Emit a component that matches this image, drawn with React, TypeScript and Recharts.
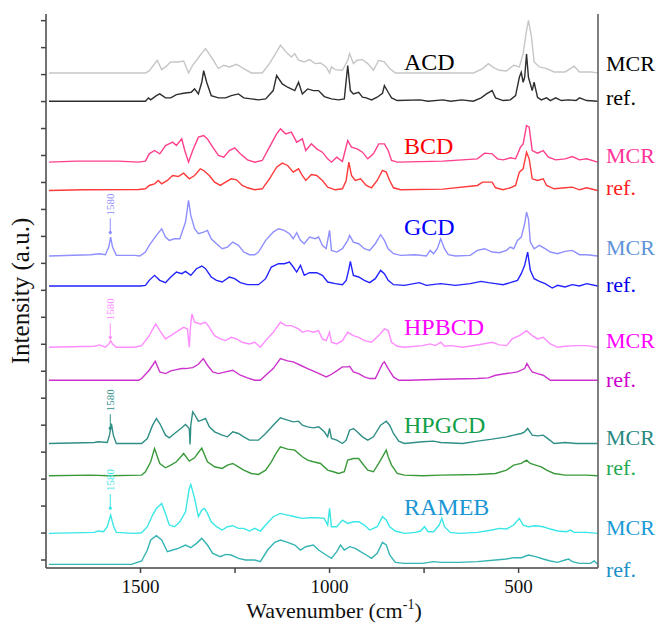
import React from 'react';
import { LineChart, Line, XAxis, YAxis, ReferenceDot } from 'recharts';

type Pt = [number, number];

// Raman spectra (wavenumber cm-1, relative intensity a.u.)
const acdMcr: Pt[] = [[1742,0],[1487,0],[1477,6],[1456,38],[1444,10],[1434,18],[1420,33],[1400,33],[1386,36],[1373,0],[1362,23],[1342,53],[1328,73],[1313,48],[1294,13],[1280,23],[1265,18],[1246,26],[1227,13],[1207,0],[1178,0],[1159,28],[1140,63],[1130,83],[1111,58],[1101,48],[1092,58],[1082,38],[1067,33],[1053,40],[1038,28],[1024,30],[1009,18],[1000,0],[995,18],[985,10],[966,8],[952,38],[947,58],[937,28],[927,38],[913,40],[899,28],[884,8],[870,38],[855,33],[841,13],[826,0],[619,0],[595,13],[580,28],[566,16],[551,8],[532,6],[513,23],[498,18],[488,58],[479,128],[474,158],[466,108],[459,33],[445,18],[426,13],[406,3],[377,3],[353,20],[339,3],[310,3],[291,0]];
const acdRef: Pt[] = [[1742,0],[1487,0],[1479,10],[1473,4],[1458,17],[1449,22],[1434,10],[1420,10],[1405,20],[1386,24],[1366,27],[1357,37],[1347,22],[1338,57],[1333,92],[1325,57],[1313,17],[1294,10],[1275,10],[1260,17],[1241,22],[1227,10],[1207,7],[1188,4],[1169,7],[1149,32],[1140,77],[1125,52],[1111,42],[1092,32],[1082,57],[1072,22],[1058,37],[1043,32],[1029,32],[1014,14],[995,7],[976,4],[961,7],[952,107],[945,32],[937,22],[923,27],[913,12],[903,10],[889,4],[874,12],[860,24],[855,47],[845,27],[836,10],[821,2],[760,4],[740,0],[700,4],[680,0],[650,4],[620,0],[599,10],[585,22],[570,32],[561,10],[541,2],[522,4],[508,17],[498,72],[493,87],[488,57],[484,72],[479,142],[474,72],[464,32],[459,57],[455,37],[450,12],[440,4],[426,10],[416,2],[402,10],[387,2],[368,4],[348,2],[339,10],[320,2],[291,0]];
const bcdMcr: Pt[] = [[1742,0],[1670,3],[1560,3],[1505,0],[1487,3],[1477,25],[1463,35],[1449,25],[1434,50],[1415,60],[1405,50],[1391,70],[1383,35],[1373,0],[1362,35],[1347,75],[1333,80],[1323,70],[1309,45],[1294,20],[1280,15],[1265,35],[1251,43],[1236,25],[1217,7],[1198,0],[1178,5],[1159,45],[1140,85],[1130,100],[1116,85],[1101,90],[1087,60],[1072,70],[1063,35],[1048,55],[1034,40],[1019,30],[1005,10],[995,0],[981,15],[966,2],[952,65],[942,45],[927,40],[913,30],[899,10],[884,25],[870,55],[855,55],[845,35],[836,5],[821,0],[700,3],[609,10],[590,27],[570,25],[556,10],[541,7],[522,13],[508,10],[495,45],[488,55],[479,110],[472,105],[464,35],[450,27],[435,35],[421,15],[402,7],[377,10],[358,17],[339,7],[320,10],[291,0]];
const bcdRef: Pt[] = [[1742,0],[1650,2],[1505,3],[1487,5],[1477,15],[1463,20],[1453,30],[1444,20],[1429,30],[1415,45],[1400,42],[1386,52],[1371,35],[1357,45],[1342,65],[1333,60],[1318,45],[1304,25],[1289,15],[1275,25],[1260,35],[1246,32],[1231,15],[1217,8],[1198,2],[1178,5],[1159,35],[1140,70],[1125,82],[1111,75],[1096,55],[1082,65],[1072,45],[1063,30],[1048,48],[1034,45],[1019,30],[1005,10],[985,2],[966,5],[956,30],[949,85],[942,45],[932,30],[918,35],[903,15],[889,8],[874,30],[860,60],[850,55],[841,30],[831,8],[812,2],[700,4],[609,15],[595,25],[570,25],[561,8],[541,2],[522,8],[508,15],[498,55],[488,65],[479,115],[472,95],[464,35],[450,30],[435,35],[426,15],[406,5],[377,8],[358,10],[339,2],[320,8],[291,0]];
const gcdMcr: Pt[] = [[1742,0],[1632,4],[1608,7],[1593,4],[1584,27],[1579,57],[1574,27],[1564,2],[1516,2],[1502,0],[1487,12],[1477,32],[1458,62],[1444,82],[1434,57],[1424,47],[1410,52],[1396,52],[1381,102],[1373,167],[1367,122],[1357,82],[1347,67],[1333,72],[1323,77],[1313,52],[1299,37],[1284,22],[1270,27],[1256,42],[1241,32],[1227,12],[1212,4],[1198,4],[1188,12],[1169,47],[1149,72],[1135,82],[1120,77],[1106,67],[1096,52],[1087,70],[1077,47],[1067,37],[1053,57],[1038,52],[1029,57],[1019,32],[1009,22],[1000,77],[995,17],[981,12],[966,22],[952,47],[947,62],[937,42],[923,37],[908,22],[894,17],[879,37],[865,64],[855,47],[845,22],[831,7],[812,2],[773,4],[744,0],[734,17],[725,7],[715,22],[706,52],[696,22],[686,4],[667,0],[628,2],[609,17],[590,22],[570,12],[551,10],[532,17],[522,27],[513,22],[503,47],[493,57],[484,97],[479,132],[474,112],[469,42],[459,22],[445,32],[430,22],[416,12],[397,7],[377,14],[358,17],[339,4],[320,4],[291,0]];
const gcdRef: Pt[] = [[1742,0],[1500,0],[1487,2],[1477,17],[1463,32],[1449,17],[1434,10],[1420,27],[1405,42],[1391,37],[1381,44],[1367,32],[1352,52],[1338,60],[1328,52],[1313,27],[1299,17],[1284,12],[1265,27],[1251,22],[1236,10],[1217,4],[1188,4],[1169,22],[1154,57],[1135,67],[1120,67],[1106,72],[1096,57],[1087,42],[1077,62],[1067,32],[1053,40],[1034,40],[1019,32],[1005,12],[985,7],[966,4],[956,17],[949,50],[945,74],[937,32],[923,27],[908,17],[894,10],[879,22],[865,47],[855,37],[845,17],[831,4],[802,2],[763,10],[744,2],[706,7],[667,2],[628,7],[599,14],[580,10],[561,7],[541,4],[522,10],[503,17],[493,37],[484,62],[476,102],[469,47],[459,22],[445,14],[430,7],[411,-6],[397,2],[377,-3],[358,4],[339,0],[320,7],[291,0]];
const hpbcdMcr: Pt[] = [[1742,0],[1622,3],[1608,7],[1593,0],[1584,10],[1579,20],[1574,10],[1564,0],[1516,0],[1497,5],[1477,35],[1460,70],[1449,50],[1434,25],[1420,35],[1400,50],[1386,60],[1376,55],[1371,0],[1368,60],[1364,100],[1357,75],[1342,70],[1328,75],[1318,60],[1304,35],[1289,25],[1275,20],[1260,30],[1246,25],[1231,15],[1212,10],[1198,15],[1183,0],[1169,20],[1149,45],[1130,75],[1116,65],[1101,65],[1082,55],[1072,45],[1058,50],[1043,45],[1029,50],[1019,25],[1009,20],[1000,45],[995,15],[981,10],[966,20],[952,45],[937,35],[923,30],[908,20],[889,15],[870,35],[855,55],[845,50],[836,15],[821,3],[802,0],[754,5],[734,10],[720,5],[706,15],[696,3],[677,5],[648,0],[609,7],[570,15],[551,7],[532,5],[517,25],[498,35],[479,50],[464,35],[450,25],[435,30],[416,10],[397,0],[377,3],[348,5],[320,5],[291,0]];
const hpbcdRef: Pt[] = [[1742,0],[1505,0],[1497,5],[1477,30],[1461,57],[1449,25],[1434,20],[1420,28],[1405,32],[1391,35],[1381,35],[1362,38],[1347,48],[1334,65],[1323,45],[1309,25],[1294,20],[1275,25],[1256,30],[1236,15],[1217,7],[1198,0],[1183,0],[1169,15],[1149,35],[1130,65],[1111,58],[1096,55],[1077,45],[1058,35],[1038,25],[1019,15],[1009,10],[999,15],[981,28],[966,40],[952,40],[947,42],[937,25],[923,20],[908,10],[894,5],[879,5],[860,50],[855,55],[845,35],[831,10],[817,0],[792,0],[700,3],[609,5],[580,7],[561,15],[532,20],[503,25],[484,35],[478,50],[470,35],[464,25],[450,20],[435,15],[416,0],[291,0]];
const hpgcdMcr: Pt[] = [[1742,0],[1622,3],[1612,5],[1588,3],[1582,25],[1577,60],[1572,25],[1564,0],[1497,0],[1482,15],[1468,55],[1458,75],[1449,60],[1434,25],[1424,17],[1410,30],[1391,47],[1381,57],[1371,45],[1369,-3],[1367,55],[1362,95],[1357,87],[1347,67],[1338,70],[1328,75],[1318,50],[1304,35],[1284,25],[1270,20],[1256,35],[1241,30],[1227,20],[1212,10],[1188,10],[1169,30],[1149,55],[1130,77],[1111,70],[1096,65],[1082,67],[1072,55],[1058,50],[1043,47],[1029,50],[1014,35],[1005,20],[1000,45],[995,15],[981,10],[966,0],[956,10],[947,40],[937,45],[927,35],[913,20],[899,10],[884,20],[865,55],[850,67],[841,55],[831,30],[817,7],[802,0],[754,5],[725,7],[706,3],[648,0],[609,7],[570,13],[532,20],[513,25],[493,30],[484,35],[476,45],[464,25],[450,23],[435,25],[421,13],[406,0],[377,3],[348,0],[291,0]];
const hpgcdRef: Pt[] = [[1742,0],[1632,2],[1584,0],[1497,2],[1487,12],[1473,42],[1463,82],[1449,37],[1434,24],[1420,32],[1405,42],[1391,60],[1386,67],[1371,44],[1357,54],[1347,70],[1338,83],[1323,42],[1304,27],[1284,22],[1270,32],[1256,37],[1241,27],[1227,17],[1207,7],[1188,4],[1169,17],[1154,42],[1140,70],[1130,87],[1111,80],[1092,77],[1072,57],[1058,47],[1043,42],[1024,37],[1005,17],[990,12],[976,7],[961,12],[952,47],[937,52],[923,52],[913,37],[899,17],[884,12],[870,37],[850,77],[845,57],[836,32],[821,7],[802,2],[754,0],[706,2],[609,4],[561,7],[532,17],[513,32],[493,37],[479,47],[469,37],[455,32],[440,27],[426,17],[406,7],[377,2],[320,2],[291,0]];
const ramebMcr: Pt[] = [[1742,0],[1622,3],[1612,7],[1598,5],[1588,20],[1579,55],[1571,20],[1564,3],[1516,0],[1497,2],[1482,20],[1468,55],[1458,75],[1444,90],[1434,60],[1424,25],[1410,20],[1396,35],[1381,65],[1371,135],[1367,147],[1357,105],[1347,50],[1338,70],[1331,75],[1323,60],[1313,35],[1299,20],[1284,10],[1270,20],[1256,23],[1241,15],[1227,15],[1212,7],[1198,15],[1183,7],[1169,25],[1149,50],[1130,60],[1111,55],[1092,50],[1072,45],[1053,47],[1034,47],[1014,45],[1005,25],[1000,75],[995,20],[981,20],[966,40],[952,30],[937,35],[923,35],[908,25],[894,10],[874,20],[860,50],[850,40],[841,20],[826,7],[802,0],[773,3],[759,7],[749,20],[739,5],[725,5],[710,25],[703,45],[696,20],[681,3],[657,0],[609,3],[570,10],[551,15],[532,13],[513,25],[498,45],[488,25],[474,20],[455,23],[435,20],[416,13],[397,7],[373,5],[363,10],[353,3],[320,3],[291,0]];
const ramebRef: Pt[] = [[1742,0],[1524,0],[1516,3],[1497,10],[1482,43],[1473,73],[1458,86],[1444,73],[1429,38],[1415,43],[1400,48],[1381,58],[1367,50],[1352,63],[1338,78],[1323,58],[1309,33],[1289,23],[1275,30],[1260,28],[1241,18],[1222,13],[1198,13],[1183,8],[1164,43],[1145,66],[1130,73],[1111,66],[1092,58],[1077,43],[1063,53],[1043,58],[1029,43],[1009,28],[995,18],[981,38],[971,58],[961,43],[947,53],[932,48],[918,38],[903,28],[889,18],[874,33],[860,66],[850,58],[841,28],[826,6],[802,3],[754,3],[725,8],[706,6],[657,6],[609,8],[561,13],[532,16],[513,20],[493,20],[474,28],[455,23],[435,16],[416,10],[397,6],[377,13],[368,16],[358,8],[339,3],[310,3],[300,10],[291,0]];

const spectra: Pt[][] = [acdMcr, acdRef, bcdMcr, bcdRef, gcdMcr, gcdRef, hpbcdMcr, hpbcdRef, hpgcdMcr, hpgcdRef, ramebMcr, ramebRef];
// vertical stacking offsets of each spectrum (a.u.)
const stackOffsets: number[] = [1463, 1378, 1195, 1110, 913, 823, 639, 540, 350, 253, 80, -13];

const sampleNames: string[] = ['ACD', 'BCD', 'GCD', 'HPBCD', 'HPGCD', 'RAMEB'];
const sampleLabelPos: Pt[] = [[803, 1473], [803, 1218], [803, 975], [803, 675], [803, 381], [803, 135]];
const traceNames: string[] = ['MCR', 'ref.', 'MCR', 'ref.', 'MCR', 'ref.', 'MCR', 'ref.', 'MCR', 'ref.', 'MCR', 'ref.'];
const traceLabelY: number[] = [1470, 1368, 1191, 1095, 915, 804, 636, 519, 345, 255, 75, -51];

const peakText = '1580';
const peakWavenumber = 1580;
const peakArrowTips: number[] = [978, 663, 390, 150];

const xTicks: number[] = [1500, 1250, 1000, 750, 500];
const yTicks: number[] = Array.from({ length: 21 }, (_, i) => i * 81);

// styles
const lineColors = ['#c6c6c6', '#2e2e2e', '#ff3f8c', '#ff3a3a', '#8f8fff', '#2323ff', '#ff8cff', '#cc33cc', '#2f8f86', '#3a9a3a', '#3ae6e6', '#35b4b4'];
const sampleColors = ['#000000', '#ff0000', '#0000ff', '#ff00ff', '#12a04a', '#1a96d4'];
const traceColors = ['#000000', '#000000', '#ff3399', '#ff2020', '#5f93d8', '#0000ee', '#ff00ff', '#cc00cc', '#2a8a80', '#1faa50', '#1a9ad6', '#1a8fc8'];
const peakColors = ['#8f8fff', '#ff8cff', '#2f8f86', '#3ae6e6'];

const SERIF = '"Liberation Serif", "DejaVu Serif", serif';
const serifStyle = { fontFamily: SERIF };
const X_DOMAIN: [number, number] = [290, 1750];
const Y_DOMAIN: [number, number] = [-24, 1640];

export default function App() {
  const lineData = spectra.map((s, i) => s.map(([x, y]) => ({ x, y: y + stackOffsets[i] })));
  return (
    <div style={{ position: 'absolute', left: 0, top: 0, width: 665, height: 628, background: '#fff', fontFamily: SERIF }}>
      <LineChart width={665} height={628} margin={{ top: 14, right: 0, bottom: 0, left: 6 }} style={serifStyle}>
        <XAxis
          dataKey="x"
          type="number"
          domain={X_DOMAIN}
          allowDataOverflow
          reversed
          ticks={xTicks}
          interval={0}
          height={60}
          tickSize={5}
          tickMargin={7}
          stroke="#444"
          strokeWidth={1.5}
          tickFormatter={(v: number) => (v % 500 === 0 ? String(v) : '')}
          tick={{ fill: '#111', fontSize: 19, fontFamily: SERIF, style: serifStyle }}
          label={{
            content: (p: any) => {
              const vb = p.viewBox || { x: 46, y: 568, width: 552 };
              return (
                <text x={vb.x + vb.width / 2 + 12} y={618} textAnchor="middle" style={serifStyle} fontSize={22} fill="#111">
                  Wavenumber (cm<tspan dy={-9} fontSize={14}>-1</tspan><tspan dy={9}>)</tspan>
                </text>
              );
            },
          }}
        />
        <XAxis xAxisId="top" orientation="top" type="number" domain={X_DOMAIN} allowDataOverflow reversed height={0} tick={false} tickLine={false} stroke="#555" strokeWidth={1.5} />
        <YAxis
          type="number"
          domain={Y_DOMAIN}
          allowDataOverflow
          ticks={yTicks}
          interval={0}
          width={40}
          tickSize={5}
          tickFormatter={() => ''}
          stroke="#444"
          strokeWidth={1.5}
          label={{
            content: (p: any) => {
              const vb = p.viewBox || { x: 6, y: 14, width: 40, height: 554 };
              const cx = vb.x + 14;
              const cy = vb.y + vb.height / 2;
              return (
                <text x={cx} y={cy} transform={`rotate(-90 ${cx} ${cy})`} textAnchor="middle" dominantBaseline="central" style={serifStyle} fontSize={25} fill="#111">
                  Intensity (a.u.)
                </text>
              );
            },
          }}
        />
        <YAxis yAxisId="right" orientation="right" type="number" domain={[0, 1]} width={67} tick={false} tickLine={false} stroke="#555" strokeWidth={1.5} />

        {lineData.map((d, i) => (
          <Line
            key={i}
            data={d}
            dataKey="y"
            type="linear"
            stroke={lineColors[i]}
            strokeWidth={1.4}
            dot={false}
            activeDot={false}
            isAnimationActive={false}
          />
        ))}

        {sampleNames.map((name, i) => (
          <ReferenceDot
            key={'s' + i}
            x={sampleLabelPos[i][0]}
            y={sampleLabelPos[i][1]}
            ifOverflow="visible"
            shape={(p: any) => (
              <text x={p.cx} y={p.cy} style={serifStyle} fontSize={24} fill={sampleColors[i]}>
                {name}
              </text>
            )}
          />
        ))}

        {traceNames.map((name, i) => (
          <ReferenceDot
            key={'t' + i}
            x={X_DOMAIN[0]}
            y={traceLabelY[i]}
            ifOverflow="visible"
            shape={(p: any) => (
              <text x={p.cx + 8} y={p.cy} style={serifStyle} fontSize={22} fill={traceColors[i]}>
                {name}
              </text>
            )}
          />
        ))}

        {peakArrowTips.map((tip, i) => (
          <ReferenceDot
            key={'p' + i}
            x={peakWavenumber}
            y={tip}
            ifOverflow="visible"
            shape={(p: any) => {
              const cx = p.cx;
              const cy = p.cy;
              const ty = cy - 19;
              return (
                <g>
                  <line x1={cx} y1={cy} x2={cx} y2={cy - 16} stroke={peakColors[i]} strokeWidth={1} />
                  <circle cx={cx} cy={cy - 2} r={1.6} fill={peakColors[i]} />
                  <text x={cx} y={ty} transform={`rotate(-90 ${cx} ${ty})`} textAnchor="start" dominantBaseline="central" style={serifStyle} fontSize={11} fill={peakColors[i]}>
                    {peakText}
                  </text>
                </g>
              );
            }}
          />
        ))}
      </LineChart>
    </div>
  );
}
